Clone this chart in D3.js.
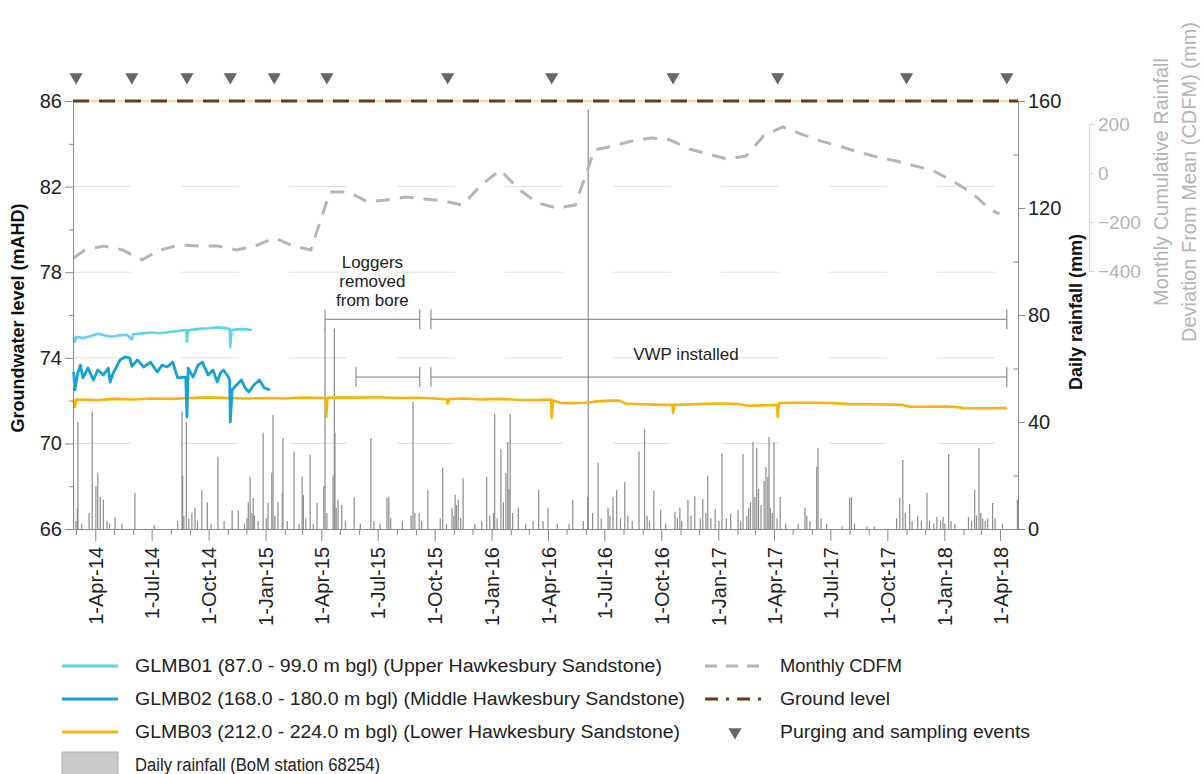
<!DOCTYPE html>
<html lang="en">
<head>
<meta charset="UTF-8">
<title>GLMB groundwater levels and rainfall</title>
<style>
  body { margin: 0; background: #fff; }
  svg { display: block; font-family: "Liberation Sans", Arial, sans-serif; }
</style>
</head>
<body>
<svg width="1204" height="774"></svg>
<script src="https://d3js.org/d3.v7.min.js"></script>
<script>
// ---- data ----
const leftTicks = [66, 70, 74, 78, 82, 86];
const rainTicks = [0, 40, 80, 120, 160];
const cdfmTicks = [-400, -200, 0, 200];
const groundLevel = 86;

// sampling / purging events
const samplingEvents = ["2014-03-01", "2014-05-30", "2014-08-27", "2014-11-05", "2015-01-15", "2015-04-10",
  "2015-10-22", "2016-04-07", "2016-10-20", "2017-04-07", "2017-11-01", "2018-04-12"];

// GLMB01 (mAHD)
const glmb01 = [["2014-02-25",74.95],["2014-02-27",74.75],["2014-03-01",74.98],["2014-03-12",74.92],["2014-03-25",75.02],
  ["2014-04-05",75.12],["2014-04-15",75.05],["2014-04-28",74.98],["2014-05-10",75.05],["2014-05-22",75.08],["2014-05-30",74.85],
  ["2014-06-01",75.10],["2014-06-15",75.14],["2014-07-01",75.18],["2014-07-15",75.15],["2014-08-01",75.22],["2014-08-15",75.26],
  ["2014-08-26",75.30],["2014-08-27",74.75],["2014-08-29",75.28],["2014-09-15",75.35],["2014-10-01",75.38],["2014-10-15",75.42],
  ["2014-10-25",75.40],["2014-11-04",75.36],["2014-11-05",74.5],["2014-11-07",75.30],["2014-11-20",75.34],["2014-12-01",75.33],
  ["2014-12-10",75.30]];

// GLMB02 (mAHD)
const glmb02 = [["2014-02-25",73.34],["2014-02-27",72.5],["2014-03-03",73.2],["2014-03-08",73.66],["2014-03-12",73.06],
  ["2014-03-20",73.52],["2014-03-29",72.96],["2014-04-05",73.43],["2014-04-14",73.2],["2014-04-22",73.52],["2014-04-25",72.87],
  ["2014-04-30",73.29],["2014-05-11",73.9],["2014-05-19",74.04],["2014-05-27",73.99],["2014-05-30",73.6],["2014-06-08",73.9],
  ["2014-06-18",73.57],["2014-06-29",73.8],["2014-07-10",73.34],["2014-07-18",73.66],["2014-07-26",73.57],["2014-08-04",73.8],
  ["2014-08-12",73.06],["2014-08-25",73.1],["2014-08-27",71.23],["2014-08-29",73.52],["2014-09-06",73.1],["2014-09-14",73.66],
  ["2014-09-21",73.8],["2014-09-30",73.2],["2014-10-08",73.43],["2014-10-15",72.87],["2014-10-20",73.29],["2014-10-25",73.43],
  ["2014-11-02",73.1],["2014-11-04",72.96],["2014-11-05",71.0],["2014-11-08",72.5],["2014-11-15",72.73],["2014-11-23",72.96],
  ["2014-11-29",72.59],["2014-12-05",72.4],["2014-12-13",72.73],["2014-12-22",72.96],["2014-12-30",72.59],["2015-01-08",72.5]];

// GLMB03 (mAHD)
const glmb03 = [["2014-02-25",72.05],["2014-02-27",71.7],["2014-03-02",72.05],["2014-04-01",72.02],["2014-05-01",72.08],
  ["2014-06-01",72.05],["2014-07-01",72.1],["2014-08-01",72.08],["2014-09-01",72.12],["2014-10-01",72.15],["2014-11-01",72.12],
  ["2014-12-01",72.1],["2015-01-01",72.12],["2015-02-01",72.1],["2015-03-01",72.14],["2015-04-08",72.12],["2015-04-09",71.25],
  ["2015-04-11",72.13],["2015-05-01",72.15],["2015-06-01",72.14],["2015-07-01",72.16],["2015-08-01",72.12],["2015-09-01",72.13],
  ["2015-10-01",72.1],["2015-10-21",72.05],["2015-10-22",71.85],["2015-10-24",72.06],["2015-11-15",72.1],["2015-12-15",72.05],
  ["2016-01-15",72.08],["2016-02-15",72.03],["2016-03-15",72.02],["2016-04-06",72.05],["2016-04-07",71.2],["2016-04-09",72.0],
  ["2016-04-20",71.9],["2016-05-10",71.88],["2016-05-30",71.9],["2016-06-15",71.95],["2016-07-10",72.0],["2016-07-25",72.0],
  ["2016-08-05",71.85],["2016-09-01",71.83],["2016-10-01",71.8],["2016-10-19",71.8],["2016-10-20",71.42],["2016-10-22",71.8],
  ["2016-11-15",71.82],["2016-12-10",71.85],["2017-01-10",71.86],["2017-02-01",71.84],["2017-02-20",71.76],["2017-03-20",71.78],
  ["2017-04-06",71.8],["2017-04-07",71.23],["2017-04-09",71.88],["2017-05-01",71.9],["2017-06-01",71.9],["2017-07-01",71.89],
  ["2017-07-20",71.86],["2017-08-01",71.83],["2017-09-01",71.83],["2017-10-01",71.82],["2017-10-25",71.8],["2017-11-05",71.72],
  ["2017-12-01",71.71],["2018-01-01",71.72],["2018-01-20",71.7],["2018-02-01",71.65],["2018-03-01",71.64],["2018-04-12",71.65]];

// monthly cumulative deviation from mean (mm), plotted mid-month
const cdfm = [["2014-02-25",-347],["2014-03-15",-314],["2014-04-15",-298],["2014-05-15",-314],["2014-06-15",-355],
  ["2014-07-15",-314],["2014-08-15",-294],["2014-09-15",-298],["2014-10-15",-298],["2014-11-15",-314],["2014-12-15",-298],
  ["2015-01-15",-265],["2015-02-15",-298],["2015-03-15",-314],["2015-04-15",-78],["2015-05-15",-78],["2015-06-15",-118],
  ["2015-07-15",-110],["2015-08-15",-98],["2015-09-15",-106],["2015-10-15",-114],["2015-11-15",-131],["2015-12-15",-49],
  ["2016-01-15",12],["2016-02-15",-69],["2016-03-15",-122],["2016-04-15",-143],["2016-05-15",-131],["2016-06-15",94],
  ["2016-07-15",110],["2016-08-15",131],["2016-09-15",143],["2016-10-15",135],["2016-11-15",98],["2016-12-15",78],
  ["2017-01-15",57],["2017-02-15",69],["2017-03-15",151],["2017-04-15",188],["2017-05-15",159],["2017-06-15",131],
  ["2017-07-15",110],["2017-08-15",86],["2017-09-15",65],["2017-10-15",49],["2017-11-15",29],["2017-12-15",8],
  ["2018-01-15",-33],["2018-02-15",-82],["2018-03-15",-147],["2018-03-31",-167]];

// daily rainfall (mm), days without a visible bar are dry
const rainfall = [["2014-02-25",16],["2014-03-01",3],["2014-03-03",8],["2014-03-04",40],["2014-03-10",2],["2014-03-22",6],
  ["2014-03-27",44],["2014-04-02",16],["2014-04-05",21],["2014-04-09",12],["2014-04-14",11],["2014-04-20",3],["2014-04-24",2],
  ["2014-05-03",4.5],["2014-05-14",2],["2014-06-04",13.5],["2014-07-05",1.5],["2014-08-12",3],["2014-08-19",44],["2014-08-20",20],
  ["2014-08-22",5],["2014-08-26",40],["2014-08-30",4],["2014-09-04",6],["2014-09-09",8],["2014-09-13",3],["2014-09-20",14.6],
  ["2014-09-29",10],["2014-10-05",2],["2014-10-16",27],["2014-10-26",3],["2014-11-08",7],["2014-11-18",7],["2014-11-28",2],
  ["2014-12-02",4],["2014-12-04",10],["2014-12-07",19.5],["2014-12-10",6],["2014-12-12",11.6],["2014-12-14",5],["2014-12-20",3],
  ["2014-12-28",36],["2015-01-02",4],["2015-01-05",9.7],["2015-01-11",21],["2015-01-13",42.6],["2015-01-16",5],["2015-01-21",10],
  ["2015-01-28",13.5],["2015-01-29",34],["2015-02-05",3],["2015-02-16",29],["2015-02-24",2],["2015-03-01",19.5],["2015-03-03",12.7],
  ["2015-03-07",4],["2015-03-14",27.7],["2015-03-19",2],["2015-03-25",9.7],["2015-04-05",16],["2015-04-07",75],["2015-04-10",6],
  ["2015-04-20",20],["2015-04-22",75],["2015-04-23",36],["2015-04-25",8],["2015-04-28",11],["2015-05-04",9],["2015-05-10",3],
  ["2015-05-24",12],["2015-06-03",2],["2015-06-20",34],["2015-06-25",3],["2015-07-05",2],["2015-07-16",11.6],["2015-07-19",12],
  ["2015-07-22",4],["2015-08-10",3],["2015-08-24",5],["2015-08-27",47.5],["2015-08-30",6],["2015-09-06",6],["2015-09-10",3],
  ["2015-09-20",14.6],["2015-10-10",4],["2015-10-14",23],["2015-10-20",2],["2015-10-29",8],["2015-11-01",5],["2015-11-03",12.7],
  ["2015-11-05",9],["2015-11-08",11],["2015-11-12",4],["2015-11-16",19],["2015-12-05",2],["2015-12-16",3],["2015-12-24",19.5],
  ["2015-12-29",5],["2016-01-04",6],["2016-01-06",43],["2016-01-10",4],["2016-01-16",30],["2016-01-20",10],["2016-01-24",21],
  ["2016-01-27",32.5],["2016-01-29",15],["2016-01-31",43],["2016-02-04",6],["2016-02-13",8],["2016-02-25",2],["2016-03-08",3],
  ["2016-03-17",14.6],["2016-03-24",3],["2016-04-01",8],["2016-04-16",2],["2016-05-05",2],["2016-05-11",11],["2016-05-28",3],
  ["2016-06-04",12],["2016-06-05",157],["2016-06-12",6],["2016-06-21",24.7],["2016-06-26",4],["2016-07-07",8],["2016-07-10",5],
  ["2016-07-15",12],["2016-07-21",14.6],["2016-07-27",4],["2016-08-03",17.5],["2016-08-08",5],["2016-08-15",3],["2016-08-26",29],
  ["2016-09-04",37.3],["2016-09-08",5],["2016-09-12",3],["2016-09-19",14.2],["2016-09-30",7],["2016-10-08",2],["2016-10-23",6.4],
  ["2016-10-27",4],["2016-10-31",8],["2016-11-03",3],["2016-11-13",11],["2016-11-18",5],["2016-11-24",12.3],["2016-12-03",4],
  ["2016-12-07",11.2],["2016-12-12",6],["2016-12-15",20],["2016-12-20",4],["2016-12-27",7.5],["2017-01-02",3],["2017-01-07",28.4],
  ["2017-01-14",4],["2017-01-21",5.6],["2017-02-02",7],["2017-02-06",3],["2017-02-10",28],["2017-02-16",5],["2017-02-19",7.8],
  ["2017-02-22",10],["2017-02-26",32.5],["2017-03-01",12],["2017-03-04",30.3],["2017-03-07",15],["2017-03-11",9],["2017-03-16",18],
  ["2017-03-19",23.2],["2017-03-22",19.5],["2017-03-24",34.4],["2017-03-26",8],["2017-03-29",6],["2017-04-01",32.5],["2017-04-06",4],
  ["2017-04-11",12],["2017-04-20",2],["2017-05-10",2],["2017-05-21",8],["2017-05-24",5],["2017-05-29",3],["2017-06-09",23.2],
  ["2017-06-11",30.3],["2017-06-16",4],["2017-06-25",2],["2017-07-20",1],["2017-08-01",11.6],["2017-08-04",12],["2017-08-09",2],
  ["2017-08-29",1],["2017-09-10",1],["2017-10-16",4],["2017-10-21",11.6],["2017-10-26",25.8],["2017-10-30",6],["2017-11-06",9.3],
  ["2017-11-10",3],["2017-11-19",5],["2017-11-25",3],["2017-12-04",13.5],["2017-12-08",3],["2017-12-15",2],["2017-12-20",4.5],
  ["2017-12-26",3],["2017-12-30",4.5],["2018-01-02",2],["2018-01-08",28],["2018-01-12",3],["2018-01-18",2],["2018-02-09",4.5],
  ["2018-02-14",3],["2018-02-19",14.6],["2018-02-22",5],["2018-02-26",30.3],["2018-03-01",6],["2018-03-04",4],["2018-03-08",3],
  ["2018-03-12",4],["2018-03-20",9.7],["2018-03-24",4],["2018-04-05",2],["2018-04-29",11]];

// periods marked on the chart
const loggersOut = ["2015-04-07", "2015-09-07"];
const loggersBack = ["2015-09-25", "2018-04-12"];
const vwpBefore = ["2015-05-27", "2015-09-07"];
const vwpAfter = ["2015-09-25", "2018-04-12"];

// ---- layout ----
const svg = d3.select("svg");
const L = 73, R = 1018, T = 101, B = 529;
const parse = d3.timeParse("%Y-%m-%d");
const fmt = d3.timeFormat("%-d-%b-%y");

const x = d3.scaleTime().domain([parse("2014-02-24"), parse("2018-04-30")]).range([L, R]);
const yL = d3.scaleLinear().domain([66, 86]).range([B, T]);
const yR = d3.scaleLinear().domain([0, 160]).range([B, T]);
const yC = d3.scaleLinear().domain([-400, 200]).range([271, 124]);

const colors = { g1: "#62d4ea", g2: "#16a2d4", g3: "#f6b40c", rain: "#8c8c8c", cdfm: "#b5b5b5",
  ground: "#6a3a1c", axis: "#8a8a8a", tri: "#666666" };

// gridlines
svg.append("g")
  .selectAll("line")
  .data(leftTicks.filter(v => v > 66 && v < 86))
  .join("line")
  .attr("x1", L).attr("x2", R)
  .attr("y1", d => yL(d)).attr("y2", d => yL(d))
  .attr("stroke", "#dedede")
  .attr("stroke-dasharray", "58,50");

// rainfall bars
svg.append("g")
  .selectAll("rect")
  .data(rainfall)
  .join("rect")
  .attr("x", d => x(parse(d[0])) - 0.6)
  .attr("width", 1.2)
  .attr("y", d => yR(d[1]))
  .attr("height", d => yR(0) - yR(d[1]))
  .attr("fill", colors.rain);

// CDFM line
svg.append("path")
  .datum(cdfm)
  .attr("fill", "none")
  .attr("stroke", colors.cdfm)
  .attr("stroke-width", 3)
  .attr("stroke-dasharray", "14,10")
  .attr("d", d3.line().x(d => x(parse(d[0]))).y(d => yC(d[1])));

// period brackets
function bracket(range, level) {
  const g = svg.append("g").attr("stroke", "#7a7a7a").attr("stroke-width", 1);
  const x1 = x(parse(range[0])), x2 = x(parse(range[1])), y = yL(level);
  g.append("line").attr("x1", x1).attr("x2", x2).attr("y1", y).attr("y2", y);
  g.append("line").attr("x1", x1).attr("x2", x1).attr("y1", y - 10).attr("y2", y + 10);
  g.append("line").attr("x1", x2).attr("x2", x2).attr("y1", y - 10).attr("y2", y + 10);
}
bracket(loggersOut, 75.8);
bracket(loggersBack, 75.8);
bracket(vwpBefore, 73.1);
bracket(vwpAfter, 73.1);

const midOut = x(new Date((parse(loggersOut[0]).getTime() + parse(loggersOut[1]).getTime()) / 2));
svg.append("text")
  .attr("x", midOut).attr("y", 268)
  .attr("text-anchor", "middle")
  .attr("font-size", 17)
  .attr("fill", "#222")
  .selectAll("tspan")
  .data(["Loggers", "removed", "from bore"])
  .join("tspan")
  .attr("x", midOut)
  .attr("dy", (d, i) => i ? 19 : 0)
  .text(d => d);

svg.append("text")
  .attr("x", 686).attr("y", 360)
  .attr("text-anchor", "middle")
  .attr("font-size", 17)
  .attr("fill", "#222")
  .text("VWP installed");

// ground level
svg.append("line")
  .attr("x1", L).attr("x2", R)
  .attr("y1", yL(groundLevel)).attr("y2", yL(groundLevel))
  .attr("stroke", "#f2c9a2").attr("stroke-width", 1.5);
svg.append("line")
  .attr("x1", L).attr("x2", R)
  .attr("y1", yL(groundLevel)).attr("y2", yL(groundLevel))
  .attr("stroke", colors.ground).attr("stroke-width", 3)
  .attr("stroke-dasharray", "16,10");

// groundwater series
const gwLine = d3.line().x(d => x(parse(d[0]))).y(d => yL(d[1]));
[[glmb03, colors.g3, 2.6], [glmb01, colors.g1, 2.6], [glmb02, colors.g2, 2.8]].forEach(([data, c, w]) => {
  svg.append("path")
    .datum(data)
    .attr("fill", "none")
    .attr("stroke", c)
    .attr("stroke-width", w)
    .attr("stroke-linejoin", "round")
    .attr("d", gwLine);
});

// purging and sampling events
const tri = d3.symbol().type(d3.symbolTriangle).size(75);
svg.append("g")
  .selectAll("path")
  .data(samplingEvents)
  .join("path")
  .attr("d", tri)
  .attr("transform", d => `translate(${x(parse(d))},77) rotate(180)`)
  .attr("fill", colors.tri);

// ---- axes ----
function styleAxis(g) {
  g.select(".domain").attr("stroke", colors.axis);
  g.selectAll(".tick line").attr("stroke", colors.axis);
  g.selectAll(".tick text").attr("fill", "#222").attr("font-family", "Liberation Sans, Arial, sans-serif");
}

// left
svg.append("g")
  .attr("transform", `translate(${L},0)`)
  .call(d3.axisLeft(yL).tickValues(leftTicks).tickSize(8).tickPadding(3).tickSizeOuter(0))
  .call(styleAxis)
  .call(g => g.selectAll(".tick text").attr("font-size", 20));
svg.append("g")
  .attr("transform", `translate(${L},0)`)
  .call(d3.axisLeft(yL).tickValues([68, 72, 76, 80, 84]).tickSize(4).tickFormat(""))
  .call(styleAxis)
  .call(g => g.select(".domain").remove());

// right (rainfall)
svg.append("g")
  .attr("transform", `translate(${R},0)`)
  .call(d3.axisRight(yR).tickValues(rainTicks).tickSize(7).tickPadding(3).tickSizeOuter(0))
  .call(styleAxis)
  .call(g => g.selectAll(".tick text").attr("font-size", 20));
svg.append("g")
  .attr("transform", `translate(${R},0)`)
  .call(d3.axisLeft(yR).tickValues([20, 60, 100, 140]).tickSize(5).tickFormat(""))
  .call(styleAxis)
  .call(g => g.select(".domain").remove());

// CDFM axis
svg.append("g")
  .attr("transform", "translate(1089,0)")
  .call(d3.axisRight(yC).tickValues(cdfmTicks).tickSize(5).tickPadding(4).tickSizeOuter(0))
  .call(g => g.select(".domain").attr("stroke", "#d6d6d6"))
  .call(g => g.selectAll(".tick line").attr("stroke", "#d6d6d6"))
  .call(g => g.selectAll(".tick text").attr("fill", "#b4b4b4").attr("font-size", 19)
    .attr("font-family", "Liberation Sans, Arial, sans-serif"));

// bottom (dates), monthly ticks with quarterly labels
const quarter = d => d.getMonth() % 3 === 0;
svg.append("g")
  .attr("transform", `translate(0,${B})`)
  .call(d3.axisBottom(x).ticks(d3.timeMonth.every(1)).tickSize(6).tickSizeOuter(0)
    .tickFormat(d => quarter(d) ? fmt(d) : ""))
  .call(styleAxis)
  .call(g => g.selectAll(".tick line").filter(d => quarter(d)).attr("y2", 12))
  .call(g => g.selectAll(".tick text")
    .attr("font-size", 20)
    .attr("transform", "rotate(-90)")
    .attr("text-anchor", "end")
    .attr("x", -18).attr("y", 0).attr("dy", "0.36em"));

// axis titles
svg.append("text")
  .attr("transform", "translate(24,318) rotate(-90)")
  .attr("text-anchor", "middle")
  .attr("font-size", 18).attr("font-weight", "bold").attr("fill", "#111")
  .text("Groundwater level (mAHD)");
svg.append("text")
  .attr("transform", "translate(1082,312) rotate(-90)")
  .attr("text-anchor", "middle")
  .attr("font-size", 18).attr("font-weight", "bold").attr("fill", "#111")
  .text("Daily rainfall (mm)");
svg.append("text")
  .attr("transform", "translate(1168,182) rotate(-90)")
  .attr("text-anchor", "middle")
  .attr("font-size", 20).attr("fill", "#b4b4b4")
  .text("Monthly Cumulative Rainfall");
svg.append("text")
  .attr("transform", "translate(1196,182) rotate(-90)")
  .attr("text-anchor", "middle")
  .attr("font-size", 20).attr("fill", "#b4b4b4")
  .text("Deviation From Mean (CDFM) (mm)");

// ---- legend ----
const legend = svg.append("g").attr("font-size", 18).attr("fill", "#222")
  .attr("font-family", "'Liberation Sans Narrow', 'Liberation Sans', Arial, sans-serif");
const leftItems = [
  { label: "GLMB01 (87.0 - 99.0 m bgl) (Upper Hawkesbury Sandstone)", color: colors.g1, len: 527 },
  { label: "GLMB02 (168.0 - 180.0 m bgl) (Middle Hawkesbury Sandstone)", color: colors.g2, len: 550 },
  { label: "GLMB03 (212.0 - 224.0 m bgl) (Lower Hawkesbury Sandstone)", color: colors.g3, len: 545 },
  { label: "Daily rainfall (BoM station 68254)", color: null, len: 245 }
];
leftItems.forEach((it, i) => {
  const y = 666 + i * 33;
  if (it.color) {
    legend.append("line").attr("x1", 62).attr("x2", 118).attr("y1", y).attr("y2", y)
      .attr("stroke", it.color).attr("stroke-width", 3);
  } else {
    legend.append("rect").attr("x", 62).attr("y", y - 13).attr("width", 56).attr("height", 26)
      .attr("fill", "#c9c9c9").attr("stroke", "#b0b0b0");
  }
  legend.append("text").attr("x", 135).attr("y", y).attr("dy", "0.35em")
    .attr("textLength", it.len).attr("lengthAdjust", "spacingAndGlyphs").text(it.label);
});

const rightItems = [
  { label: "Monthly CDFM", len: 122 },
  { label: "Ground level", len: 110 },
  { label: "Purging and sampling events", len: 250 }
];
rightItems.forEach((it, i) => {
  const y = 666 + i * 33;
  legend.append("text").attr("x", 780).attr("y", y).attr("dy", "0.35em")
    .attr("textLength", it.len).attr("lengthAdjust", "spacingAndGlyphs").text(it.label);
});
legend.append("line").attr("x1", 705).attr("x2", 765).attr("y1", 666).attr("y2", 666)
  .attr("stroke", colors.cdfm).attr("stroke-width", 3).attr("stroke-dasharray", "12,9");
legend.append("line").attr("x1", 705).attr("x2", 765).attr("y1", 699).attr("y2", 699)
  .attr("stroke", colors.ground).attr("stroke-width", 3).attr("stroke-dasharray", "13,8,3,8");
legend.append("path").attr("d", tri).attr("transform", "translate(735,732) rotate(180)").attr("fill", colors.tri);
</script>
</body>
</html>
